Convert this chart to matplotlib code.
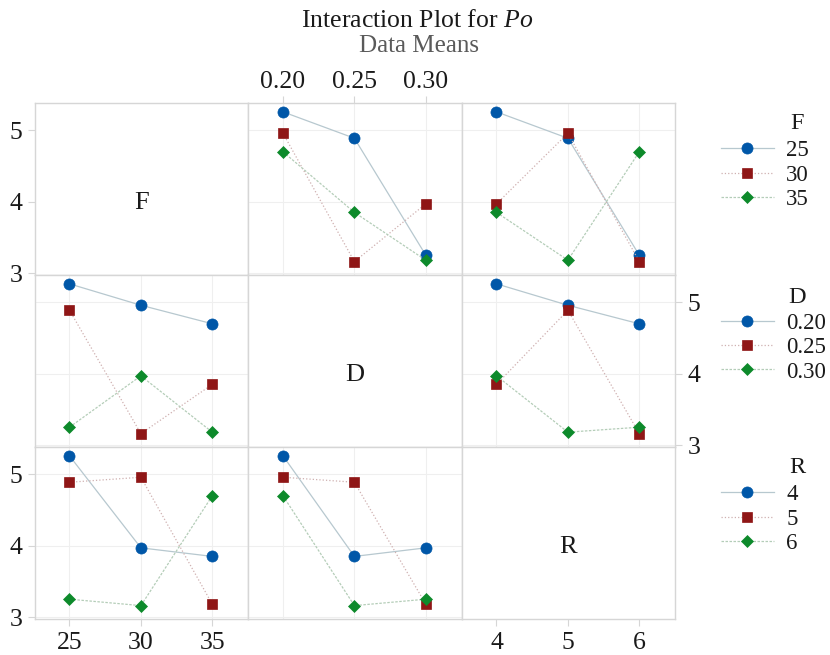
import matplotlib
matplotlib.use("Agg")
import matplotlib.pyplot as plt
import pandas as pd

plt.rcParams['font.family'] = ['Liberation Serif', 'DejaVu Serif']
plt.rcParams['mathtext.fontset'] = 'custom'
plt.rcParams['mathtext.rm'] = 'Liberation Serif'
plt.rcParams['mathtext.it'] = 'Liberation Serif:italic'

# factor levels
f_levels = [25, 30, 35]
d_levels = [0.20, 0.25, 0.30]
r_levels = [4, 5, 6]
f_labels = ['25', '30', '35']
d_labels = ['0.20', '0.25', '0.30']
r_labels = ['4', '5', '6']

# L9 runs (one observation per run)
run_f = [25, 25, 25, 30, 30, 30, 35, 35, 35]
run_d = [0.20, 0.25, 0.30, 0.20, 0.25, 0.30, 0.20, 0.25, 0.30]
run_r = [4, 5, 6, 5, 6, 4, 6, 4, 5]
run_po = [5.26, 4.89, 3.25, 4.96, 3.16, 3.97, 4.70, 3.85, 3.18]

df = pd.DataFrame({'F': run_f, 'D': run_d, 'R': run_r, 'Po': run_po})

factors = ['F', 'D', 'R']
levels = {'F': f_levels, 'D': d_levels, 'R': r_levels}
labels = {'F': f_labels, 'D': d_labels, 'R': r_labels}

colors = ['#0057a8', '#8f1616', '#0d8a2b']
line_colors = ['#b7c8cf', '#cfb0b0', '#b4cdb8']
markers = ['o', 's', 'D']
msizes = [8, 7.5, 6.5]
styles = ['-', ':', (0, (2, 1.2))]

W, H = 830, 655
fig = plt.figure(figsize=(W / 100, H / 100), dpi=100)

x0, pw = 34.5, 213.5
y0, ph = 103.3, 172.0
spine_c = '#d6d6d6'
grid_c = '#efefef'

legend_handles = {}

for i, trace in enumerate(factors):
    for j, xf in enumerate(factors):
        left = (x0 + j * pw) / W
        bottom = 1 - (y0 + (i + 1) * ph) / H
        ax = fig.add_axes([left, bottom, pw / W, ph / H])
        ax.set_xlim(-0.49, 2.5)
        ax.set_ylim(2.968, 5.38)
        ax.set_xticks([0, 1, 2])
        ax.set_xticklabels(labels[xf])
        ax.set_yticks([3, 4, 5])
        ax.set_yticklabels(['3', '4', '5'])
        for s in ax.spines.values():
            s.set_color(spine_c)
            s.set_linewidth(1.0)
        ax.tick_params(length=5, color=spine_c, labelcolor='#1a1a1a',
                       labelsize=18.5, pad=3,
                       bottom=False, labelbottom=False, top=False, labeltop=False,
                       left=False, labelleft=False, right=False, labelright=False)
        if j == 1 and i == 0:
            ax.tick_params(axis='x', top=True, labeltop=True, pad=2.5)
        elif j != 1 and i == 2:
            ax.tick_params(axis='x', bottom=True, labelbottom=True, pad=4.5)
        if i == 1 and j == 2:
            ax.tick_params(axis='y', right=True, labelright=True, pad=4)
        elif i != 1 and j == 0:
            ax.tick_params(axis='y', left=True, labelleft=True, pad=3.5)

        if i == j:
            ax.text(0.5, 0.42, trace, transform=ax.transAxes, ha='center',
                    va='center', fontsize=19, color='#1a1a1a')
            continue

        ax.grid(True, color=grid_c, lw=0.8)
        ax.set_axisbelow(True)
        means = df.groupby([trace, xf])['Po'].mean().unstack(xf)
        handles = []
        for k, lev in enumerate(levels[trace]):
            ys = [means.loc[lev, xv] for xv in levels[xf]]
            ln, = ax.plot([0, 1, 2], ys, linestyle=styles[k], color=line_colors[k],
                          lw=0.9, marker=markers[k], ms=msizes[k],
                          mfc=colors[k], mec=colors[k], mew=0.5)
            handles.append(ln)
        legend_handles[trace] = handles

# legends on the right
leg_title_y = {'F': 126, 'D': 300, 'R': 470}
for trace in factors:
    ty = leg_title_y[trace]
    fig.text(797 / W, 1 - (ty - 2.5) / H, trace, ha='center', va='center',
             fontsize=17.5, color='#1a1a1a')
    fig.legend(legend_handles[trace], labels[trace], loc='upper left',
               bbox_to_anchor=(721 / W, 1 - (ty + 14 - (1.5 if trace == 'D' else 0)) / H),
               frameon=False,
               fontsize=16.5, borderpad=0, handlelength=2.3, handletextpad=0.55,
               labelspacing=0.15, borderaxespad=0, labelcolor='#1a1a1a')

fig.text(417 / W, 1 - 21 / H, 'Interaction Plot for $\\mathit{Po}$', ha='center',
         va='center', fontsize=18.5, color='#1a1a1a')
fig.text(419 / W, 1 - 46 / H, 'Data Means', ha='center', va='center',
         fontsize=18, color='#5a5a5a')

fig.savefig('out.png', dpi=100)
